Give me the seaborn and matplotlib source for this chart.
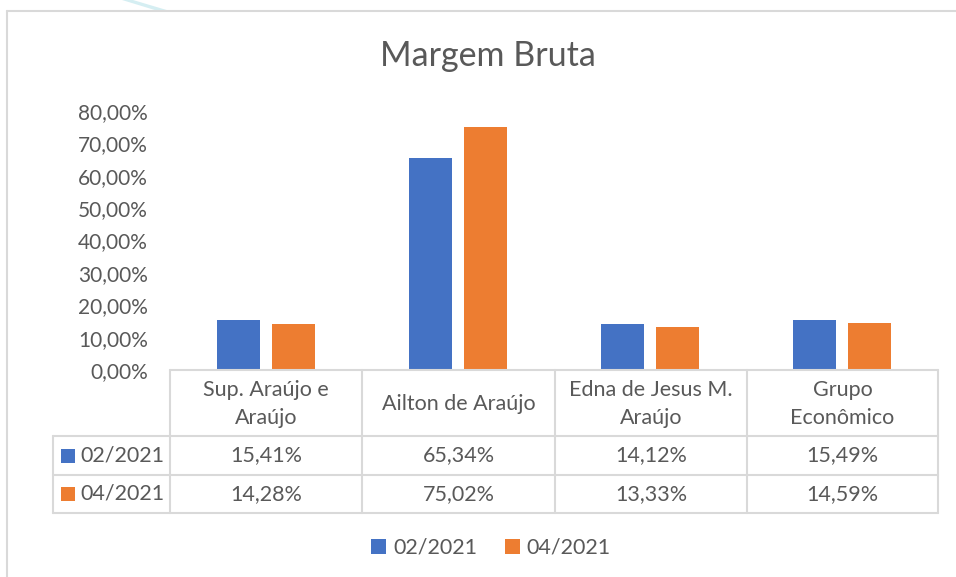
import pandas as pd
import matplotlib.pyplot as plt
import seaborn as sns
from matplotlib.lines import Line2D
from matplotlib.patches import Rectangle, Patch, Polygon

categorias = ["Sup. Araújo e\nAraújo", "Ailton de Araújo", "Edna de Jesus M.\nAraújo", "Grupo\nEconômico"]
periodos = ["02/2021", "04/2021"]
margem_02 = [15.41, 65.34, 14.12, 15.49]
margem_04 = [14.28, 75.02, 13.33, 14.59]
y_ticks = [0, 10, 20, 30, 40, 50, 60, 70, 80]

cores = ["#4472C4", "#ED7D31"]
cinza_txt = "#595959"
cinza_linha = "#D9D9D9"

W, H = 956, 577


def px(x, y):
    # pixel (from top-left) -> figure coords
    return x / W, 1 - y / H


def fmt(v):
    return f"{v:.2f}".replace(".", ",") + "%"


df = pd.DataFrame({
    "categoria": categorias * 2,
    "periodo": [periodos[0]] * 4 + [periodos[1]] * 4,
    "valor": margem_02 + margem_04,
})

sns.set_style("white")
plt.rcParams["font.family"] = ["Lato", "DejaVu Sans"]

fig = plt.figure(figsize=(W / 100, H / 100), dpi=100)
x0, y0 = px(170, 370)
x1, y1 = px(938, 111)
ax = fig.add_axes([x0, y0, x1 - x0, y1 - y0])

sns.barplot(data=df, x="categoria", y="valor", hue="periodo", palette=cores,
            saturation=1, width=0.573, gap=0.22, linewidth=0, ax=ax)
ax.get_legend().remove()

ax.set_xlim(-0.5, 3.5)
ax.set_ylim(0, 80)
ax.set_yticks(y_ticks)
ax.set_yticklabels([fmt(v) for v in y_ticks], fontsize=15, color=cinza_txt)
ax.set_xticklabels([])
ax.tick_params(axis="both", length=0)
ax.tick_params(axis="y", pad=16)
ax.set_xlabel("")
ax.set_ylabel("")
for s in ax.spines.values():
    s.set_visible(False)

# --- chart frame + stray mark at the top ---
fig.add_artist(Polygon([px(122, 0), px(133, 0), px(170, 11), px(158, 11)],
                       closed=True, transform=fig.transFigure,
                       facecolor="#D5EEF2", edgecolor="none"))
fig.add_artist(Line2D(*zip(px(7, 11), px(956, 11)), color=cinza_linha, lw=1.5))
fig.add_artist(Line2D(*zip(px(7, 11), px(7, 577)), color=cinza_linha, lw=1.5))

# --- title ---
fig.text(*px(488, 66), "Margem Bruta", ha="center", va="baseline",
         fontsize=24.5, color=cinza_txt)

# --- data table ---
cols = [170, 362, 555, 747, 938]
rows = [370, 436, 475, 513]
for x in cols:
    fig.add_artist(Line2D(*zip(px(x, 370), px(x, 513)), color=cinza_linha, lw=1.5))
fig.add_artist(Line2D(*zip(px(170, 370), px(938, 370)), color=cinza_linha, lw=1.5))
for y in rows[1:]:
    fig.add_artist(Line2D(*zip(px(53, y), px(938, y)), color=cinza_linha, lw=1.5))
fig.add_artist(Line2D(*zip(px(53, 436), px(53, 513)), color=cinza_linha, lw=1.5))

centros = [(cols[i] + cols[i + 1]) / 2 for i in range(4)]
for cx, nome in zip(centros, categorias):
    fig.text(*px(cx, 404), nome, ha="center", va="center", fontsize=15.5,
             color=cinza_txt, linespacing=1.45, multialignment="center")

for r, (per, vals, cor) in enumerate(zip(periodos, [margem_02, margem_04], cores)):
    cy = (rows[r + 1] + rows[r + 2]) / 2
    fig.add_artist(Rectangle(px(61, cy + 7), 14 / W, 14 / H,
                             transform=fig.transFigure, facecolor=cor, edgecolor="none"))
    fig.text(*px(80, cy), per, ha="left", va="center", fontsize=15.5, color=cinza_txt)
    for cx, v in zip(centros, vals):
        fig.text(*px(cx, cy), fmt(v), ha="center", va="center", fontsize=15.5, color=cinza_txt)

# --- legend ---
handles = [Patch(facecolor=c, edgecolor="none") for c in cores]
fig.legend(handles, periodos, loc="center", bbox_to_anchor=px(491, 548), ncol=2,
           frameon=False, fontsize=15.5, labelcolor=cinza_txt,
           handlelength=0.7, handleheight=0.7, handletextpad=0.3, columnspacing=1.3)

fig.savefig("out.png", dpi=100)
